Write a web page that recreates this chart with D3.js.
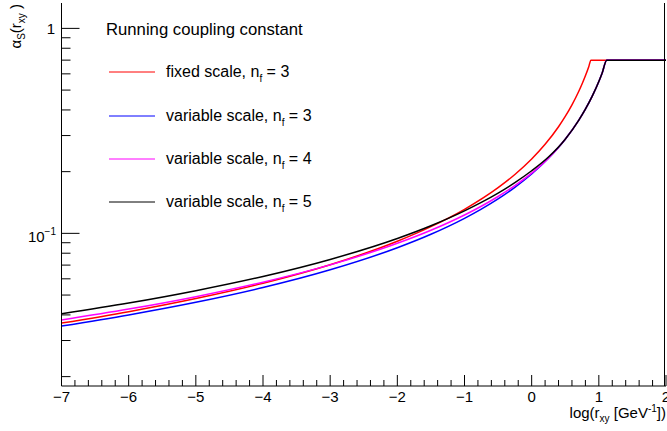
<!DOCTYPE html>
<html>
<head>
<meta charset="utf-8">
<script src="https://cdn.jsdelivr.net/npm/d3@7"></script>
<style>
  body { margin: 0; background: #fff; }
  svg text { font-family: "Liberation Sans", Arial, Helvetica, sans-serif; fill: #000; }
</style>
</head>
<body>
<div id="chart"></div>
<script>
// log10(r_xy) sample points
const xFixed = [-7, -6, -5, -4, -3, -2, -1.5, -1, -0.5, -0.25, 0, 0.2, 0.4, 0.5, 0.6, 0.7, 0.75, 0.8, 0.85, 0.883, 2];
const alphaFixed3 = [0.0365, 0.0415, 0.0481, 0.0571, 0.0703, 0.0915, 0.1078, 0.1310, 0.1671, 0.1937, 0.2305, 0.2718, 0.3311, 0.3717, 0.4236, 0.4923, 0.5357, 0.5875, 0.6506, 0.70, 0.70];

const xVar = [-7, -6, -5, -4, -3, -2, -1.5, -1, -0.75, -0.5, -0.25, 0, 0.25, 0.5, 0.7, 0.8, 0.9, 1.0, 1.05, 1.117, 2];
const alphaVar3 = [0.0353, 0.0400, 0.0461, 0.0544, 0.0664, 0.0851, 0.0990, 0.1184, 0.1313, 0.1473, 0.1678, 0.1949, 0.2325, 0.2879, 0.3559, 0.4034, 0.4657, 0.5507, 0.6060, 0.70, 0.70];
const alphaVar4 = [0.0378, 0.0427, 0.0491, 0.0578, 0.0702, 0.0894, 0.1035, 0.1229, 0.1356, 0.1513, 0.1711, 0.1968, 0.2325, 0.2879, 0.3559, 0.4034, 0.4657, 0.5507, 0.6060, 0.70, 0.70];
const alphaVar5 = [0.0405, 0.0457, 0.0525, 0.0616, 0.0746, 0.0944, 0.1089, 0.1287, 0.1415, 0.1572, 0.1768, 0.2020, 0.2356, 0.2879, 0.3559, 0.4034, 0.4657, 0.5507, 0.6060, 0.70, 0.70];

const series = [
  { name: "fixed scale, n", nf: "3", color: "#ff0000", x: xFixed, y: alphaFixed3 },
  { name: "variable scale, n", nf: "3", color: "#0000ff", x: xVar, y: alphaVar3 },
  { name: "variable scale, n", nf: "4", color: "#ff00ff", x: xVar, y: alphaVar4 },
  { name: "variable scale, n", nf: "5", color: "#000000", x: xVar, y: alphaVar5 }
];

const xMajor = [-7, -6, -5, -4, -3, -2, -1, 0, 1, 2];
const yMajor = [0.1, 1];
const yMinor = [0.02, 0.03, 0.04, 0.05, 0.06, 0.07, 0.08, 0.09, 0.2, 0.3, 0.4, 0.5, 0.6, 0.7, 0.8, 0.9];

const width = 667;
const height = 431;
const frame = { left: 61.5, right: 666, top: 3, bottom: 386 };

const xScale = d3.scaleLinear()
  .domain([-7, 2])
  .range([frame.left, frame.right]);

const yScale = d3.scaleLog()
  .domain([0.018, 1.33])
  .range([frame.bottom, frame.top]);

const svg = d3.select("#chart")
  .append("svg")
  .attr("width", width)
  .attr("height", height);

// curves
const line = d3.line()
  .x(d => xScale(d[0]))
  .y(d => yScale(d[1]))
  .curve(d3.curveMonotoneX);

svg.selectAll("path.curve")
  .data(series)
  .enter()
  .append("path")
  .attr("class", "curve")
  .attr("d", s => line(s.x.map((v, i) => [v, s.y[i]])))
  .attr("fill", "none")
  .attr("stroke", s => s.color)
  .attr("stroke-width", 1.5);

// frame: left, bottom, right
svg.append("line").attr("x1", frame.left).attr("x2", frame.left).attr("y1", frame.top).attr("y2", frame.bottom)
  .attr("stroke", "#000");
svg.append("line").attr("x1", frame.left).attr("x2", frame.right).attr("y1", frame.bottom).attr("y2", frame.bottom)
  .attr("stroke", "#000");
svg.append("line").attr("x1", frame.right - 1.5).attr("x2", frame.right - 1.5).attr("y1", frame.top).attr("y2", frame.bottom)
  .attr("stroke", "#000");

// x ticks
const xMinor = d3.range(-7, 2.001, 0.2).filter(v => Math.abs(v - Math.round(v)) > 0.01);
svg.selectAll("line.xminor")
  .data(xMinor)
  .enter()
  .append("line")
  .attr("x1", d => xScale(d)).attr("x2", d => xScale(d))
  .attr("y1", frame.bottom).attr("y2", frame.bottom - 6)
  .attr("stroke", "#000");
svg.selectAll("line.xmajor")
  .data(xMajor)
  .enter()
  .append("line")
  .attr("x1", d => xScale(d)).attr("x2", d => xScale(d))
  .attr("y1", frame.bottom).attr("y2", frame.bottom - 11)
  .attr("stroke", "#000");
svg.selectAll("text.xlab")
  .data(xMajor)
  .enter()
  .append("text")
  .attr("x", d => xScale(d))
  .attr("y", 402)
  .attr("text-anchor", "middle")
  .attr("font-size", 15)
  .text(d => d < 0 ? "\u2212" + Math.abs(d) : d);

// y ticks
svg.selectAll("line.yminor")
  .data(yMinor)
  .enter()
  .append("line")
  .attr("x1", frame.left).attr("x2", frame.left + 9)
  .attr("y1", d => yScale(d)).attr("y2", d => yScale(d))
  .attr("stroke", "#000");
svg.selectAll("line.ymajor")
  .data(yMajor)
  .enter()
  .append("line")
  .attr("x1", frame.left).attr("x2", frame.left + 18)
  .attr("y1", d => yScale(d)).attr("y2", d => yScale(d))
  .attr("stroke", "#000");

svg.append("text")
  .attr("x", 55).attr("y", yScale(1) + 5.5)
  .attr("text-anchor", "end")
  .attr("font-size", 15)
  .text("1");
const tenth = svg.append("text")
  .attr("x", 56).attr("y", yScale(0.1) + 9)
  .attr("text-anchor", "end")
  .attr("font-size", 15);
tenth.append("tspan").text("10");
tenth.append("tspan").attr("font-size", 10).attr("dy", -7).text("\u22121");

// axis titles
const xt = svg.append("text")
  .attr("x", 666).attr("y", 418)
  .attr("text-anchor", "end")
  .attr("font-size", 15);
xt.append("tspan").text("log(r");
xt.append("tspan").attr("font-size", 10).attr("dy", 4).text("xy");
xt.append("tspan").attr("dy", -4).text(" [GeV");
xt.append("tspan").attr("font-size", 10).attr("dy", -6).text("-1");
xt.append("tspan").attr("dy", 6).text("])");

const yt = svg.append("text")
  .attr("transform", "translate(21,4) rotate(-90)")
  .attr("text-anchor", "end")
  .attr("font-size", 15);
yt.append("tspan").text("\u03b1");
yt.append("tspan").attr("font-size", 10).attr("dy", 4).text("S");
yt.append("tspan").attr("dy", -4).text("(r");
yt.append("tspan").attr("font-size", 10).attr("dy", 4).text("xy");
yt.append("tspan").attr("dy", -4).text(" )");

// legend
svg.append("text")
  .attr("x", 106).attr("y", 35)
  .attr("font-size", 16.7)
  .text("Running coupling constant");

const rowY = [72, 116, 159, 202];
const rows = svg.selectAll("g.legend")
  .data(series)
  .enter()
  .append("g")
  .attr("class", "legend")
  .attr("transform", (d, i) => `translate(0,${rowY[i]})`);
rows.append("line")
  .attr("x1", 109).attr("x2", 155)
  .attr("y1", 0).attr("y2", 0)
  .attr("stroke", d => d.color)
  .attr("stroke-width", 1);
const lt = rows.append("text")
  .attr("x", 166).attr("y", 4.5)
  .attr("font-size", 16);
lt.append("tspan").text(d => d.name);
lt.append("tspan").attr("font-size", 10).attr("dy", 5).text("f");
lt.append("tspan").attr("dy", -5).text(d => " = " + d.nf);
</script>
</body>
</html>
